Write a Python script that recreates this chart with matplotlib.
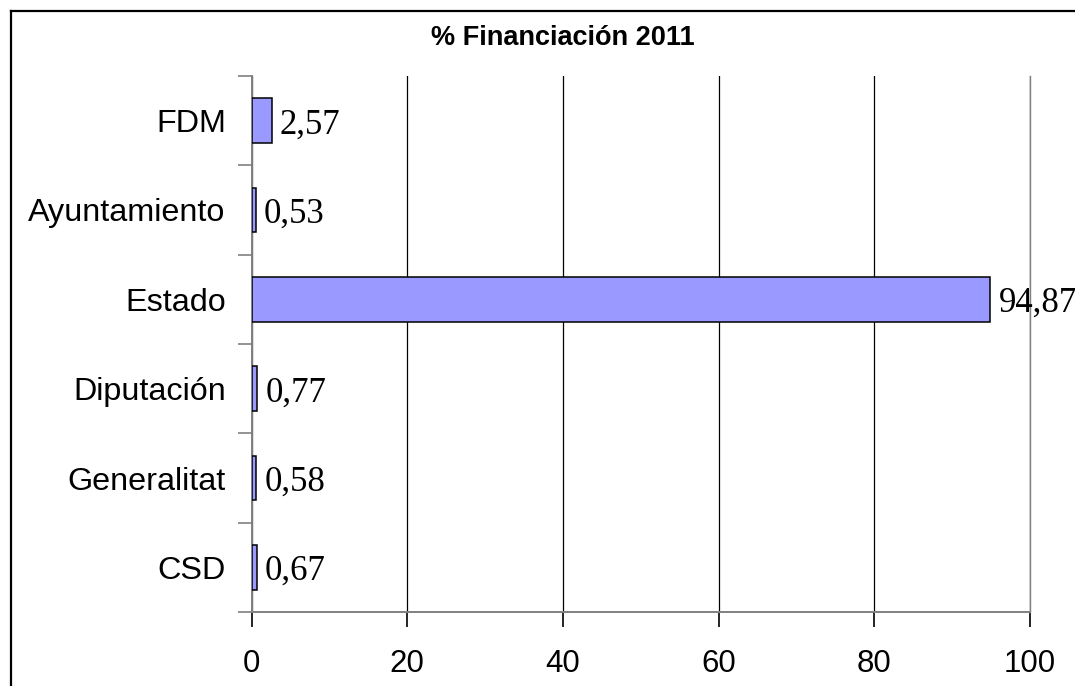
import matplotlib.pyplot as plt
from matplotlib.lines import Line2D

# Data (bottom to top)
categories = ["CSD", "Generalitat", "Diputación", "Estado", "Ayuntamiento", "FDM"]
values = [0.67, 0.58, 0.77, 94.87, 0.53, 2.57]
value_labels = ["0,67", "0,58", "0,77", "94,87", "0,53", "2,57"]
x_ticks = [0, 20, 40, 60, 80, 100]

W, H = 1075, 686
fig = plt.figure(figsize=(W / 100, H / 100), dpi=100)
fig.patch.set_facecolor("white")

# axes placement in pixels
left, right, top, bottom = 251.5, 1030, 76, 612
ax = fig.add_axes([left / W, 1 - bottom / H, (right - left) / W, (bottom - top) / H])

y = list(range(len(categories)))
ax.barh(y, values, height=0.5, color="#9999FF", edgecolor="black", linewidth=1.1, zorder=3)

for yi, v, lab in zip(y, values, value_labels):
    ax.annotate(lab, (v, yi), xytext=(6, -3), textcoords="offset points",
                va="center", ha="left", fontsize=25, family="Liberation Serif",
                annotation_clip=False, zorder=4)

ax.set_xlim(0, 100)
ax.set_ylim(-0.5, len(categories) - 0.5)
ax.set_xticks(x_ticks)
ax.set_xticklabels([str(t) for t in x_ticks], fontsize=22.5, family="Liberation Sans")
ax.set_yticks(y)
ax.set_yticklabels(categories, fontsize=23.3, family="Liberation Sans")

# category boundary ticks on y axis (major ticks without marks)
ax.set_yticks([i - 0.5 for i in range(len(categories) + 1)], minor=True)
ax.tick_params(axis="y", which="major", length=0, pad=18.5)
ax.tick_params(axis="y", which="minor", length=10, width=1.2, color="#808080", direction="out")
ax.tick_params(axis="x", which="major", length=11, width=1.2, color="black", direction="out", pad=16)

ax.xaxis.grid(True, color="black", linewidth=0.9, zorder=0)
ax.set_axisbelow(True)

ax.spines["top"].set_visible(False)
ax.spines["right"].set_color("#808080")
ax.spines["right"].set_linewidth(1.0)
for s in ["left", "bottom"]:
    ax.spines[s].set_color("#808080")
    ax.spines[s].set_linewidth(1.4)

fig.text(563 / W, 1 - 38 / H, "% Financiación 2011", ha="center", va="center",
         fontsize=19.5, fontweight="bold", family="Liberation Sans")

# outer chart frame (runs off the right and bottom edges)
fig.add_artist(Line2D([10.5 / W, 10.5 / W], [1 - 11 / H, 0], transform=fig.transFigure,
                      color="black", linewidth=1.6))
fig.add_artist(Line2D([10.5 / W, 1], [1 - 11 / H, 1 - 11 / H], transform=fig.transFigure,
                      color="black", linewidth=1.6))

fig.savefig("out.png", dpi=100)
